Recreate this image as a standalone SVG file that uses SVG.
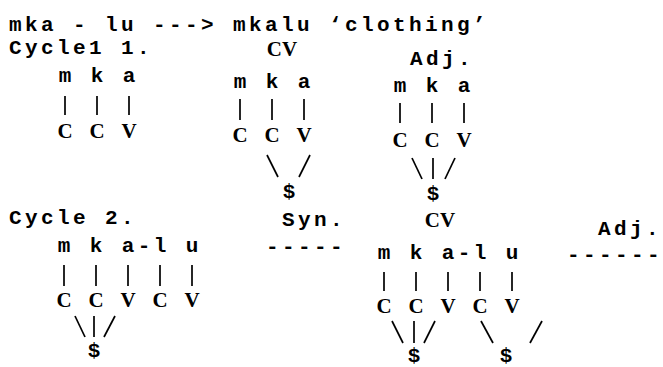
<svg xmlns="http://www.w3.org/2000/svg" width="663" height="367" viewBox="0 0 663 367">
<style>
  text { font-family: "Liberation Mono", "DejaVu Sans Mono", monospace; font-weight: bold; font-size: 21px; fill: #000; }
  .ln { letter-spacing: 3.4px; }
  .c { text-anchor: middle; }
  .s text, text.s { font-family: "Liberation Serif", "DejaVu Serif", serif; font-size: 21px; }
  .cn line { stroke: #000; stroke-width: 1.7; stroke-linecap: butt; }
</style>
<rect width="663" height="367" fill="#fff"/>

<g id="header"><text class="ln" x="9" y="31">mka - lu ---&gt; mkalu ‘clothing’</text></g>
<g id="cycle1-label"><text class="ln" x="9" y="54">Cycle1 1.</text></g>
<g id="cycle2-label"><text class="ln" x="9" y="224">Cycle 2.</text></g>

<!-- Cycle 1, left tree -->
<g id="c1a-segments" class="c"><text x="65" y="82">m</text><text x="97" y="82">k</text><text x="129" y="82">a</text></g>
<g id="c1a-skeleton" class="c s"><text x="65" y="138">C</text><text x="97" y="138">C</text><text x="129" y="138">V</text></g>

<!-- Cycle 1, CV tree -->
<g id="c1b-label" class="c s"><text x="282" y="56">CV</text></g>
<g id="c1b-segments" class="c"><text x="240" y="88">m</text><text x="272" y="88">k</text><text x="304" y="88">a</text></g>
<g id="c1b-skeleton" class="c s"><text x="240" y="142">C</text><text x="272" y="142">C</text><text x="304" y="142">V</text></g>
<g id="c1b-syllable" class="c"><text x="289" y="198">$</text></g>

<!-- Cycle 1, Adj. tree -->
<g id="c1c-label"><text class="ln" x="410" y="65">Adj.</text></g>
<g id="c1c-segments" class="c"><text x="400" y="92">m</text><text x="432" y="92">k</text><text x="464" y="92">a</text></g>
<g id="c1c-skeleton" class="c s"><text x="400" y="147">C</text><text x="432" y="147">C</text><text x="464" y="147">V</text></g>
<g id="c1c-syllable" class="c"><text x="433" y="200">$</text></g>

<!-- Cycle 2, left tree -->
<g id="c2a-segments" class="c"><text x="64" y="252">m</text><text x="96" y="252">k</text><text x="128" y="252">a</text><text x="144" y="252">-</text><text x="160" y="252">l</text><text x="192" y="252">u</text></g>
<g id="c2a-skeleton" class="c s"><text x="64" y="307">C</text><text x="96" y="307">C</text><text x="128" y="307">V</text><text x="160" y="307">C</text><text x="192" y="307">V</text></g>
<g id="c2a-syllable" class="c"><text x="94" y="357">$</text></g>

<!-- Syn. -->
<g id="c2-syn"><text class="ln" x="282" y="226">Syn.</text><text class="ln" x="266" y="253">-----</text></g>

<!-- Cycle 2, CV tree -->
<g id="c2b-label" class="c s"><text x="440" y="227">CV</text></g>
<g id="c2b-segments" class="c"><text x="384" y="259">m</text><text x="416" y="259">k</text><text x="448" y="259">a</text><text x="464" y="259">-</text><text x="480" y="259">l</text><text x="512" y="259">u</text></g>
<g id="c2b-skeleton" class="c s"><text x="384" y="313">C</text><text x="416" y="313">C</text><text x="448" y="313">V</text><text x="480" y="313">C</text><text x="512" y="313">V</text></g>
<g id="c2b-syllable1" class="c"><text x="414" y="362">$</text></g>
<g id="c2b-syllable2" class="c"><text x="506" y="362">$</text></g>

<!-- Adj. -->
<g id="c2-adj"><text class="ln" x="598" y="235">Adj.</text><text class="ln" x="567" y="261">------</text></g>

<g id="connectors" class="cn">
  <!-- c1a -->
  <line x1="65" y1="96" x2="65" y2="115"/><line x1="97" y1="96" x2="97" y2="115"/><line x1="129" y1="96" x2="129" y2="115"/>
  <!-- c1b -->
  <line x1="240" y1="99" x2="240" y2="120"/><line x1="272" y1="99" x2="272" y2="120"/><line x1="304" y1="99" x2="304" y2="120"/>
  <line x1="267" y1="155" x2="278" y2="177"/><line x1="310" y1="155" x2="299" y2="177"/>
  <!-- c1c -->
  <line x1="400" y1="103" x2="400" y2="123"/><line x1="432" y1="103" x2="432" y2="123"/><line x1="464" y1="103" x2="464" y2="123"/>
  <line x1="412" y1="158" x2="422" y2="179"/><line x1="433" y1="158" x2="433" y2="179"/><line x1="455" y1="158" x2="445" y2="179"/>
  <!-- c2a -->
  <line x1="64" y1="265" x2="64" y2="286"/><line x1="96" y1="265" x2="96" y2="286"/><line x1="128" y1="265" x2="128" y2="286"/><line x1="160" y1="265" x2="160" y2="286"/><line x1="192" y1="265" x2="192" y2="286"/>
  <line x1="75" y1="316" x2="85" y2="337"/><line x1="94" y1="316" x2="94" y2="337"/><line x1="115" y1="316" x2="104" y2="337"/>
  <!-- c2b -->
  <line x1="384" y1="272" x2="384" y2="291"/><line x1="416" y1="272" x2="416" y2="291"/><line x1="448" y1="272" x2="448" y2="291"/><line x1="480" y1="272" x2="480" y2="291"/><line x1="512" y1="272" x2="512" y2="291"/>
  <line x1="392" y1="321" x2="403" y2="343"/><line x1="414" y1="321" x2="414" y2="343"/><line x1="435" y1="321" x2="424" y2="343"/>
  <line x1="481" y1="321" x2="493" y2="343"/><line x1="542" y1="321" x2="530" y2="343"/>
</g>
</svg>
